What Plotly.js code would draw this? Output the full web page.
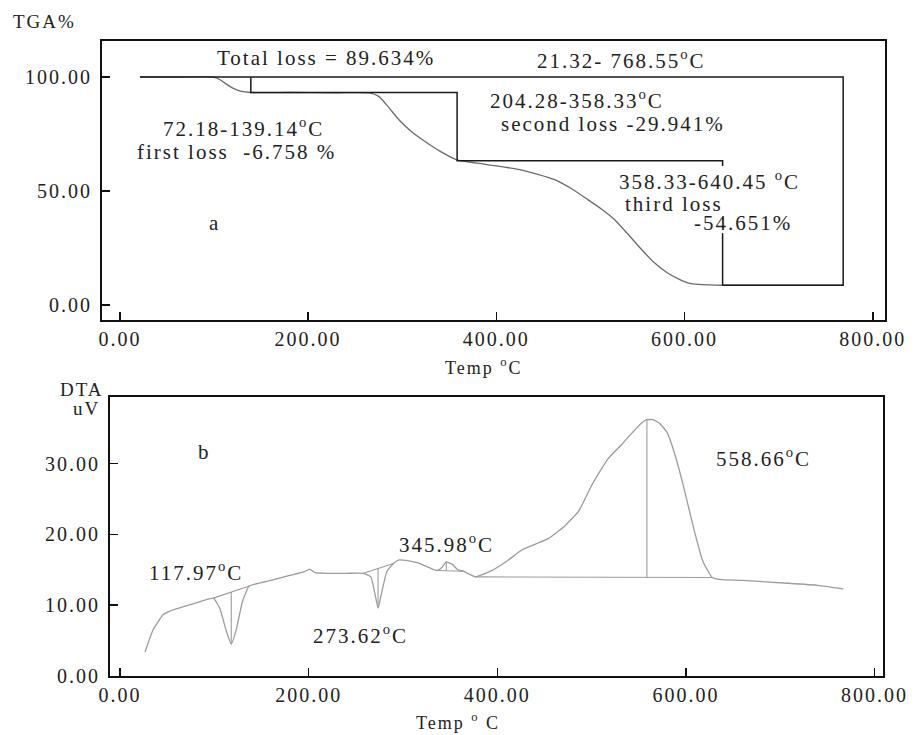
<!DOCTYPE html>
<html><head><meta charset="utf-8">
<script src="https://cdn.plot.ly/plotly-3.0.1.min.js"></script>
<style>
html,body{margin:0;padding:0;background:#fff;}
#chart{width:915px;height:735px;}
#chart text{letter-spacing:2px;}
</style></head><body><div id="chart"></div>
<script>
// ---------- TGA (panel a) ----------
const tgaTemp = [21.32, 60, 99, 106, 112, 120, 128, 139.14, 180, 230, 265, 275, 285, 297, 310, 325, 340, 358.33,
                 390, 427, 462, 480, 497, 512, 526, 540, 555, 568, 582, 594, 604, 615, 625, 640.45, 700, 768.55];
const tgaMass = [100, 100, 100, 98.9, 97.2, 95.1, 93.8, 93.2, 93.2, 93.1, 93.0, 91.5, 87.0, 81.0, 76.0, 71.5, 67.5, 63.6,
                 61.6, 59.2, 55.0, 51.0, 46.3, 42.0, 37.3, 31.0, 24.0, 18.5, 14.0, 11.3, 9.6, 9.0, 8.8, 8.65, 8.65, 8.65];
const stepTemps = [21.32, 139.14, 358.33, 640.45, 768.55];
const stepLevels = [100, 93.24, 63.30, 8.65];
// part of the 640.45 marker that is hidden behind the "third loss" text
const markerGap = [61.0, 31.5];

// ---------- DTA (panel b) ----------
const dtaTemp = [26.5, 35, 46, 60, 80, 99, 106, 112.6, 117.97, 123, 130, 137, 160, 180, 195, 201, 207, 220, 240, 258,
                 266, 270, 273.62, 277, 283, 290, 296, 305, 315, 321, 331, 336, 341, 345.98, 352, 358, 364, 370, 377,
                 393, 410, 426, 440, 454, 470, 486, 500, 517, 532, 542, 552, 558.66, 565, 572, 580, 589, 598, 608, 618, 628,
                 638, 660, 708, 740, 767];
const dtaSignal = [3.4, 6.5, 8.7, 9.5, 10.3, 11.0, 9.5, 6.4, 4.5, 6.4, 10.6, 12.7, 13.5, 14.2, 14.7, 15.1, 14.6, 14.5, 14.5, 14.5,
                   14.0, 11.8, 9.6, 11.5, 14.8, 15.9, 16.4, 16.3, 16.0, 15.7, 15.1, 14.9, 15.3, 16.1, 15.8, 15.0, 14.8, 14.4, 14.0,
                   14.8, 16.2, 17.8, 18.6, 19.4, 21.0, 23.2, 26.9, 30.6, 32.7, 34.2, 35.6, 36.2, 36.2, 35.7, 34.4, 31.0, 26.5, 21.0, 16.2, 13.9,
                   13.6, 13.5, 13.1, 12.8, 12.3];
const peakTemps = [117.97, 273.62, 345.98, 558.66];
const peakStart = [99, 258, 336, 377];
const peakEnd = [137, 290, 364, 628];

const tempTicks = [0, 200, 400, 600, 800];
const tgaTicks = [0, 50, 100];
const dtaTicks = [0, 10, 20, 30];

// ---------- helpers ----------
function interp(xs, ys, x) {
  for (let i = 0; i < xs.length - 1; i++) {
    if (x >= xs[i] && x <= xs[i + 1]) {
      const t = (x - xs[i]) / (xs[i + 1] - xs[i]);
      return ys[i] + t * (ys[i + 1] - ys[i]);
    }
  }
  return ys[ys.length - 1];
}

// TGA step brackets
const S = stepTemps, L = stepLevels;
const brX = [S[0], S[4], S[4], S[3], null, S[1], S[1], S[2], S[2], S[3], S[3], null, S[3], S[3]];
const brY = [L[0], L[0], L[3], L[3], null, L[0], L[1], L[1], L[2], L[2], markerGap[0], null, markerGap[1], L[3]];

// DTA peak baselines + markers
const pkX = [], pkY = [];
peakTemps.forEach((p, i) => {
  const a = peakStart[i], b = peakEnd[i];
  const ya = interp(dtaTemp, dtaSignal, a), yb = interp(dtaTemp, dtaSignal, b);
  const base = ya + (yb - ya) * (p - a) / (b - a);
  pkX.push(a, b, null, p, p, null);
  pkY.push(ya, yb, null, interp(dtaTemp, dtaSignal, p), base, null);
});

const FONT = 'Liberation Serif';
const TXT = '#222';

const traces = [
  {x: tgaTemp, y: tgaMass, xaxis: 'x', yaxis: 'y', mode: 'lines', line: {color: '#6a6a6a', width: 1.3, shape: 'spline', smoothing: 0.6}, hoverinfo: 'skip'},
  {x: brX, y: brY, xaxis: 'x', yaxis: 'y', mode: 'lines', line: {color: '#1a1a1a', width: 1.5}, connectgaps: false, hoverinfo: 'skip'},
  {x: dtaTemp, y: dtaSignal, xaxis: 'x2', yaxis: 'y2', mode: 'lines', line: {color: '#9c9c9c', width: 1.3, shape: 'spline', smoothing: 0.4}, hoverinfo: 'skip'},
  {x: pkX, y: pkY, xaxis: 'x2', yaxis: 'y2', mode: 'lines', line: {color: '#9c9c9c', width: 1.1}, connectgaps: false, hoverinfo: 'skip'}
];

const fmt = v => v.toFixed(2);
function axisBase(extra) {
  return Object.assign({
    showline: true, mirror: true, linecolor: '#111', linewidth: 2,
    showgrid: false, zeroline: false,
    ticks: 'inside', ticklen: 8, tickwidth: 1.5, tickcolor: '#111',
    tickmode: 'array',
    tickfont: {family: FONT, size: 20, color: TXT},
    fixedrange: true
  }, extra);
}

function ann(text, x, y, xref, yref, opts) {
  return Object.assign({text, x, y, xref, yref, showarrow: false,
    font: {family: FONT, size: 21, color: TXT}, xanchor: 'center', yanchor: 'middle'}, opts || {});
}
const small = {family: FONT, size: 19, color: TXT};

const annotations = [
  // panel a
  ann('Total loss = 89.634%', 219, 108.3, 'x', 'y'),
  ann('21.32- 768.55<sup>o</sup>C', 533, 107.5, 'x', 'y'),
  ann('204.28-358.33<sup>o</sup>C', 486, 90, 'x', 'y'),
  ann('second loss -29.941%', 524, 79.4, 'x', 'y'),
  ann('72.18-139.14<sup>o</sup>C', 131, 78, 'x', 'y'),
  ann('first loss  -6.758 %', 124, 67, 'x', 'y'),
  ann('358.33-640.45 <sup>o</sup>C', 626, 54.5, 'x', 'y'),
  ann('third loss', 589, 44.5, 'x', 'y'),
  ann('-54.651%', 662, 35.8, 'x', 'y'),
  ann('a', 101, 36, 'x', 'y'),
  ann('TGA%', 15 / 915, (735 - 22) / 735, 'paper', 'paper', {xanchor: 'left', font: small}),
  ann('Temp <sup>o</sup>C', 484 / 915, (735 - 366) / 735, 'paper', 'paper', {font: {family: FONT, size: 18, color: TXT}}),
  // panel b
  ann('117.97<sup>o</sup>C', 80.6, 14.8, 'x2', 'y2'),
  ann('273.62<sup>o</sup>C', 254.5, 5.9, 'x2', 'y2'),
  ann('345.98<sup>o</sup>C', 345.7, 18.7, 'x2', 'y2'),
  ann('558.66<sup>o</sup>C', 682, 30.9, 'x2', 'y2'),
  ann('b', 90, 31.7, 'x2', 'y2'),
  ann('DTA', 103 / 915, (735 - 389) / 735, 'paper', 'paper', {xanchor: 'right', font: small}),
  ann('uV', 101 / 915, (735 - 408) / 735, 'paper', 'paper', {xanchor: 'right', font: small}),
  ann('Temp <sup>o</sup> C', 458 / 915, 0, 'paper', 'paper', {yanchor: 'bottom', font: {family: FONT, size: 18, color: TXT}})
];

const layout = {
  width: 915, height: 735,
  margin: {l: 0, r: 0, t: 0, b: 0},
  paper_bgcolor: '#fff', plot_bgcolor: '#fff',
  showlegend: false,
  xaxis: axisBase({domain: [102 / 915, 885 / 915], range: [-19, 813], anchor: 'y',
    tickvals: tempTicks, ticktext: tempTicks.map(fmt)}),
  yaxis: axisBase({domain: [(735 - 320) / 735, (735 - 41) / 735], range: [-6.6, 115.8], anchor: 'x',
    tickvals: tgaTicks, ticktext: tgaTicks.map(fmt), ticklabelstandoff: 4}),
  xaxis2: axisBase({domain: [110 / 915, 883 / 915], range: [-10.6, 809], anchor: 'y2',
    tickvals: tempTicks, ticktext: tempTicks.map(fmt)}),
  yaxis2: axisBase({domain: [(735 - 676) / 735, (735 - 397) / 735], range: [0, 39.4], anchor: 'x2',
    tickvals: dtaTicks, ticktext: dtaTicks.map(fmt), ticklabelstandoff: 4}),
  annotations: annotations
};

Plotly.newPlot('chart', traces, layout, {displayModeBar: false, staticPlot: true});
</script></body></html>
